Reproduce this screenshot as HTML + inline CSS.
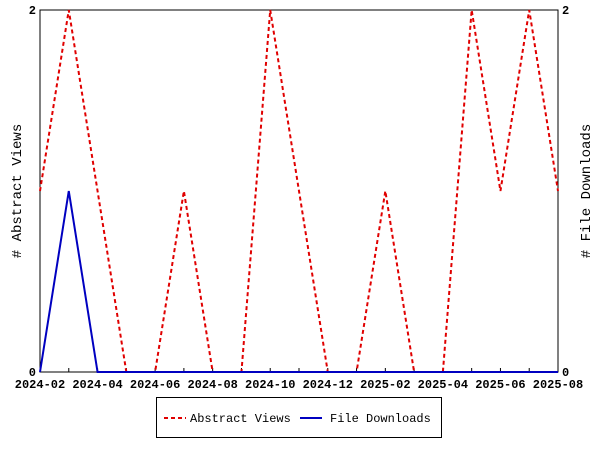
<!DOCTYPE html>
<html><head><meta charset="utf-8"><style>
body{margin:0;background:#fff}
svg text{font-family:"Liberation Mono",monospace;font-weight:bold;font-size:12px;fill:#000}
</style></head><body>
<svg width="600" height="450" xmlns="http://www.w3.org/2000/svg">
<g id="g"></g>
</svg>
<script>
const months=["2024-02","2024-03","2024-04","2024-05","2024-06","2024-07","2024-08","2024-09","2024-10","2024-11","2024-12","2025-01","2025-02","2025-03","2025-04","2025-05","2025-06","2025-07","2025-08"];
const abstractViews=[1,2,1,0,0,1,0,0,2,1,0,0,1,0,0,2,1,2,1];
const fileDownloads=[0,1,0,0,0,0,0,0,0,0,0,0,0,0,0,0,0,0,0];
const yTicks=[0,2];
const X0=40,X1=558,Y0=372,Y1=10,YMAX=2;
const xs=i=>X0+(X1-X0)*i/(months.length-1);
const ys=v=>Y0-(Y0-Y1)*v/YMAX;
const g=document.getElementById('g');
const NS="http://www.w3.org/2000/svg";
function mk(t,a,txt){const e=document.createElementNS(NS,t);for(const k in a)e.setAttribute(k,a[k]);if(txt!==undefined)e.textContent=txt;g.appendChild(e);return e;}
let e=mk('rect',{x:X0,y:Y1,width:X1-X0,height:Y0-Y1,fill:'none',stroke:'#000','stroke-width':1});


months.forEach((m,i)=>{
 const t=mk('line',{x1:xs(i),x2:xs(i),y1:Y0,y2:Y0-4,stroke:'#000'});
 
 
 if(i%2===0){const l=mk('text',{x:xs(i),y:Y0+16,'text-anchor':'middle'},m);
 
 }
});
yTicks.forEach(v=>{
 const a=mk('text',{x:X0-4,y:ys(v)+4,'text-anchor':'end'},String(v));
 
 
 const b=mk('text',{x:X1+4,y:ys(v)+4,'text-anchor':'start'},String(v));
 
 
});
let p=mk('polyline',{points:abstractViews.map((v,i)=>xs(i)+','+ys(v)).join(' '),fill:'none',stroke:'#e00000','stroke-width':2,'stroke-dasharray':'4,3'});


p=mk('polyline',{points:fileDownloads.map((v,i)=>xs(i)+','+ys(v)).join(' '),fill:'none',stroke:'#0000c0','stroke-width':2});


let t=mk('text',{x:0,y:0,transform:'translate(21,191) rotate(-90)','text-anchor':'middle','font-size':'14'},'# Abstract Views');
t.style.fontSize='14px';t.style.fontWeight='normal';


t=mk('text',{x:0,y:0,transform:'translate(590,191) rotate(-90)','text-anchor':'middle'},'# File Downloads');
t.style.fontSize='14px';t.style.fontWeight='normal';


e=mk('rect',{x:156.5,y:397.5,width:285,height:40,fill:'#fff',stroke:'#000'});


e=mk('line',{x1:164,x2:186,y1:418,y2:418,stroke:'#e00000','stroke-width':2,'stroke-dasharray':'4,3'});


t=mk('text',{x:190,y:422},'Abstract Views');t.style.fontWeight='normal';


e=mk('line',{x1:300,x2:322,y1:418,y2:418,stroke:'#0000c0','stroke-width':2});


t=mk('text',{x:330,y:422},'File Downloads');t.style.fontWeight='normal';


</script>
</body></html>
